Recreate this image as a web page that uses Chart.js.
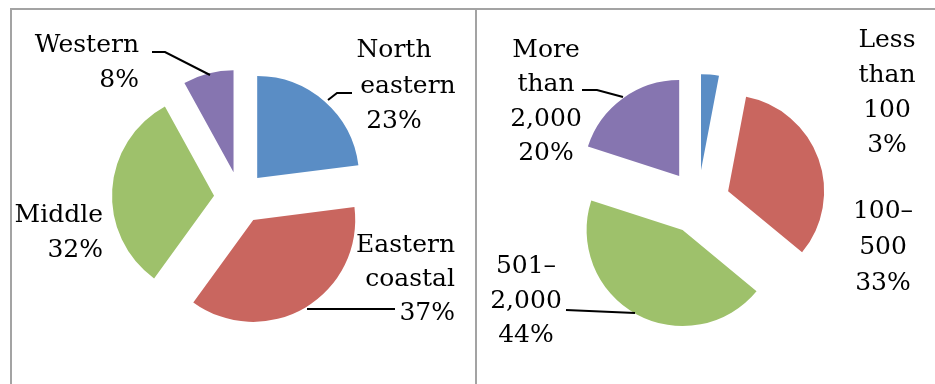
<!DOCTYPE html>
<html><head><meta charset="utf-8">
<script src="https://cdn.jsdelivr.net/npm/chart.js@4/dist/chart.umd.min.js"></script>
<style>
html,body{margin:0;padding:0;background:#fff;}
#wrap{position:relative;width:935px;height:384px;overflow:hidden;background:#fff;}
canvas{position:absolute;top:0;}
.ln{position:absolute;background:#a3a3a3;}
</style></head><body>
<div id="wrap">
<canvas id="c1" width="476" height="384" style="left:0"></canvas>
<canvas id="c2" width="459" height="384" style="left:476px"></canvas>
<div class="ln" style="left:10px;top:8px;width:925px;height:2px"></div>
<div class="ln" style="left:10px;top:8px;width:2px;height:376px"></div>
<div class="ln" style="left:475px;top:8px;width:2px;height:376px"></div>
</div>
<script>
// ---- data ----
const regionCategories = ['North eastern', 'Eastern coastal', 'Middle', 'Western'];
const regionShares = [23, 37, 32, 8];
const sizeCategories = ['Less than 100', '100–500', '501–2,000', 'More than 2,000'];
const sizeShares = [3, 33, 44, 20];
const sliceColors = ['#5A8DC5', '#C9665F', '#9EC16B', '#8675B0'];

// ---- label layout (style/positions, local canvas px) ----
const leftLabelLayout = [
  {x: [394, 408, 394], align: 'center', y: 57, lh: 35.5, leader: [[328,100],[337,93],[352,93]]},
  {x: 455, align: 'right', y: 252, lh: 34, leader: [[307,309],[395,309]]},
  {x: 103, align: 'right', y: 222, lh: 35, leader: null},
  {x: 139, align: 'right', y: 52, lh: 35, leader: [[152,52],[165,52],[210,75]]}
];
const rightLabelLayout = [
  {x: 411, align: 'center', y: 47, lh: 35, leader: null},
  {x: 407, align: 'center', y: 218, lh: 36, leader: null},
  {x: 50, align: 'center', y: 273, lh: 34.5, leader: [[90,310],[159,313]]},
  {x: 70, align: 'center', y: 57, lh: 34.3, leader: [[106,90],[121,90],[147,97]]}
];

function wrapLabel(s) {
  const out = [];
  s.split(' ').forEach(w => {
    const i = w.indexOf('–');
    if (i > 0 && i < w.length - 1) { out.push(w.slice(0, i + 1)); out.push(w.slice(i + 1)); }
    else out.push(w);
  });
  return out;
}

function makeLabelPlugin(explode, categories, values, layout) {
  return {
    id: 'pieLabels',
    beforeDatasetsDraw(chart) {
      // explode every slice outward along its mid-angle
      const ca = chart.chartArea;
      const cx = (ca.left + ca.right) / 2, cy = (ca.top + ca.bottom) / 2;
      chart.getDatasetMeta(0).data.forEach(arc => {
        const mid = (arc.startAngle + arc.endAngle) / 2;
        arc.x = cx + Math.cos(mid) * explode;
        arc.y = cy + Math.sin(mid) * explode;
      });
    },
    afterDraw(chart) {
      const ctx = chart.ctx;
      ctx.save();
      ctx.font = '25px "DejaVu Serif"';
      ctx.fillStyle = '#000';
      ctx.textBaseline = 'alphabetic';
      categories.forEach((cat, i) => {
        const L = layout[i];
        const lines = wrapLabel(cat).concat([values[i] + '%']);
        ctx.textAlign = L.align;
        lines.forEach((t, k) => {
          const x = Array.isArray(L.x) ? L.x[k] : L.x;
          ctx.fillText(t, x, L.y + k * L.lh);
        });
        if (L.leader) {
          ctx.beginPath();
          ctx.strokeStyle = '#000';
          ctx.lineWidth = 2;
          L.leader.forEach((p, j) => j ? ctx.lineTo(p[0], p[1]) : ctx.moveTo(p[0], p[1]));
          ctx.stroke();
        }
      });
      ctx.restore();
    }
  };
}

function makePie(id, categories, values, radius, explode, padding) {
  const layout = id === 'c1' ? leftLabelLayout : rightLabelLayout;
  return new Chart(document.getElementById(id), {
    type: 'pie',
    data: {
      labels: categories,
      datasets: [{
        data: values,
        backgroundColor: sliceColors,
        borderWidth: 0
      }]
    },
    options: {
      responsive: false,
      animation: false,
      radius: radius,
      layout: {padding: padding},
      events: [],
      plugins: {legend: {display: false}, tooltip: {enabled: false}}
    },
    plugins: [makeLabelPlugin(explode, categories, values, layout)]
  });
}

makePie('c1', regionCategories, regionShares, 102, 26, {left: 4, right: 0, top: 11, bottom: 0});
makePie('c2', sizeCategories, sizeShares, 96, 32, {left: 0, right: 15, top: 20, bottom: 0});
</script>
</body></html>
